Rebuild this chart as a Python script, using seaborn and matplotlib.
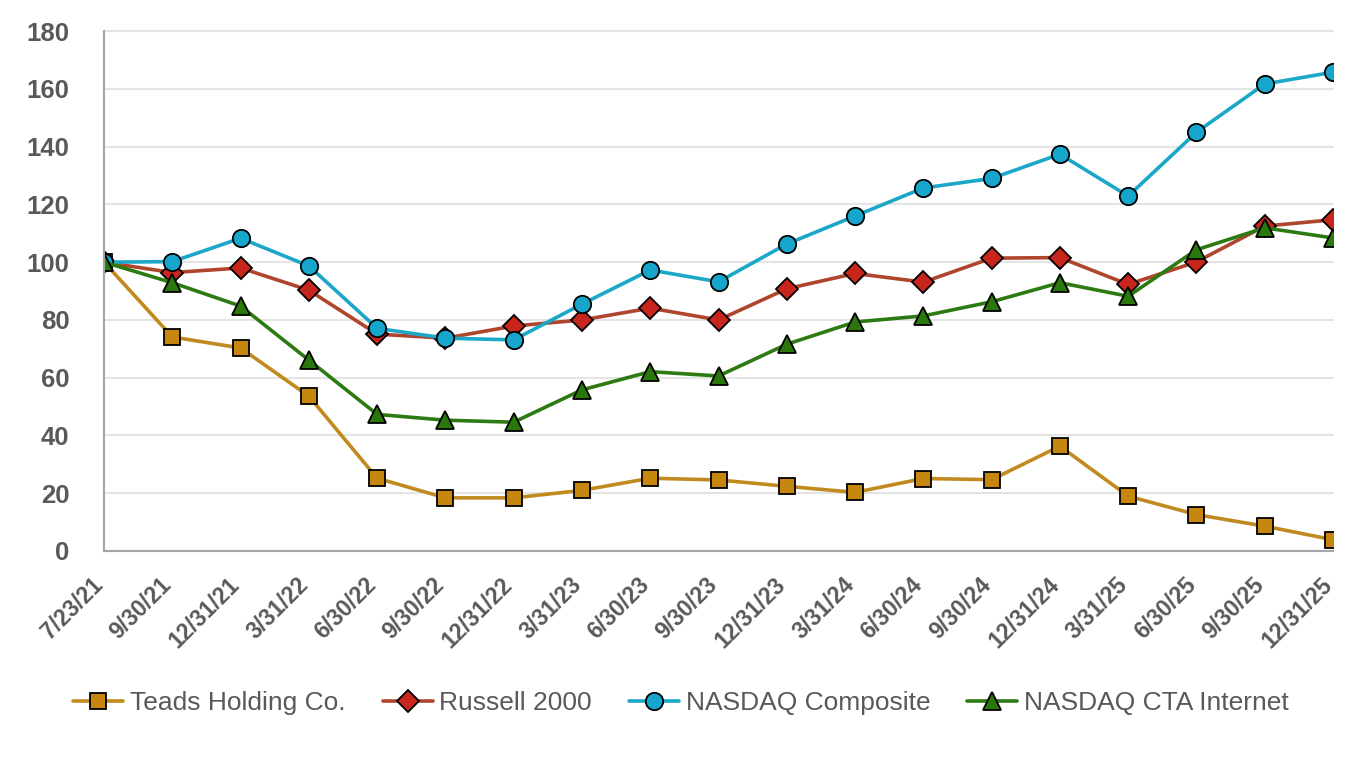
import pandas as pd
import matplotlib.pyplot as plt
import matplotlib.transforms as mtransforms
import seaborn as sns

sns.set_style("white")
plt.rcParams['font.family'] = ['Liberation Sans', 'DejaVu Sans']

dates = ['7/23/21', '9/30/21', '12/31/21', '3/31/22', '6/30/22', '9/30/22', '12/31/22',
         '3/31/23', '6/30/23', '9/30/23', '12/31/23', '3/31/24', '6/30/24', '9/30/24',
         '12/31/24', '3/31/25', '6/30/25', '9/30/25', '12/31/25']

teads = [100, 74.1, 70.3, 53.6, 25.2, 18.4, 18.4, 21.0, 25.2, 24.6, 22.4, 20.3,
         25.1, 24.7, 36.3, 19.0, 12.6, 8.6, 3.9]
russell = [100, 96.4, 98.0, 90.3, 75.1, 73.7, 77.9, 80.0, 84.1, 80.0, 90.8, 96.1,
           93.1, 101.4, 101.6, 92.3, 100.1, 112.5, 114.7]
nasdaq = [100, 100.2, 108.3, 98.7, 77.1, 73.7, 73.1, 85.5, 97.3, 93.2, 106.3, 116.0,
          125.7, 129.0, 137.4, 122.9, 145.0, 161.7, 165.8]
cta = [100, 92.9, 84.8, 66.1, 47.3, 45.3, 44.6, 55.8, 62.1, 60.6, 71.6, 79.3,
       81.4, 86.3, 92.9, 88.2, 104.3, 111.9, 108.4]

series = ['Teads Holding Co.', 'Russell 2000', 'NASDAQ Composite', 'NASDAQ CTA Internet']
line_colors = ['#C08A1E', '#B0452D', '#1AA7C8', '#2E7A12']
marker_colors = ['#C6870F', '#C8261C', '#16A6CC', '#2A770B']
markers = ['s', 'D', 'o', '^']

df = pd.DataFrame({'idx': range(len(dates)), 'date': dates,
                   series[0]: teads, series[1]: russell,
                   series[2]: nasdaq, series[3]: cta})

fig = plt.figure(figsize=(13.62, 7.6), dpi=100)
ax = fig.add_axes([0.0764, 0.275, 0.9023, 0.684])

for name, lc, mc, m in zip(series, line_colors, marker_colors, markers):
    ms = {'s': 12, 'D': 11.5, 'o': 12.5, '^': 13}[m]
    sns.lineplot(data=df, x='idx', y=name, ax=ax, color=lc, linewidth=2.6,
                 marker=m, markersize=ms, markerfacecolor=mc,
                 markeredgecolor='black', markeredgewidth=1.3, label=name,
                 legend=False)

ax.set_xlim(0, len(dates) - 1)
ax.set_ylim(0, 180)
ax.set_yticks(range(0, 181, 20))
ax.set_xticks(df['idx'])
ax.set_xticklabels(dates)
ax.set_xlabel('')
ax.set_ylabel('')

ax.grid(axis='y', color='#E4E4E4', linewidth=1.5)
for gl in ax.get_ygridlines():
    gl.set_clip_on(False)
ax.set_axisbelow(True)
for s in ['top', 'right']:
    ax.spines[s].set_visible(False)
for s in ['left', 'bottom']:
    ax.spines[s].set_color('#A6A6A6')
    ax.spines[s].set_linewidth(1.5)

ax.tick_params(axis='both', direction='out', length=11, width=1.2, color='#A6A6A6',
               labelcolor='#595959')
ax.tick_params(axis='y', pad=14)
ax.tick_params(axis='x', pad=5)
for t in ax.get_yticklabels():
    t.set_fontsize(18.5)
    t.set_fontweight('bold')

# shift rotated date labels left so their right edge meets the tick
shift = mtransforms.ScaledTranslation(-9 / 72, 0, fig.dpi_scale_trans)
for t in ax.get_xticklabels():
    t.set_fontsize(16.5)
    t.set_fontweight('bold')
    t.set_rotation(45)
    t.set_ha('right')
    t.set_va('top')
    t.set_rotation_mode('anchor')
    t.set_transform(t.get_transform() + shift)

handles, labels = ax.get_legend_handles_labels()
fig.legend(handles, labels, loc='center', bbox_to_anchor=(0.5, 0.075), ncol=4,
           frameon=False, fontsize=19, labelcolor='#595959', handlelength=1.9,
           columnspacing=1.4, handletextpad=0.25)

plt.savefig('out.png', dpi=100)
